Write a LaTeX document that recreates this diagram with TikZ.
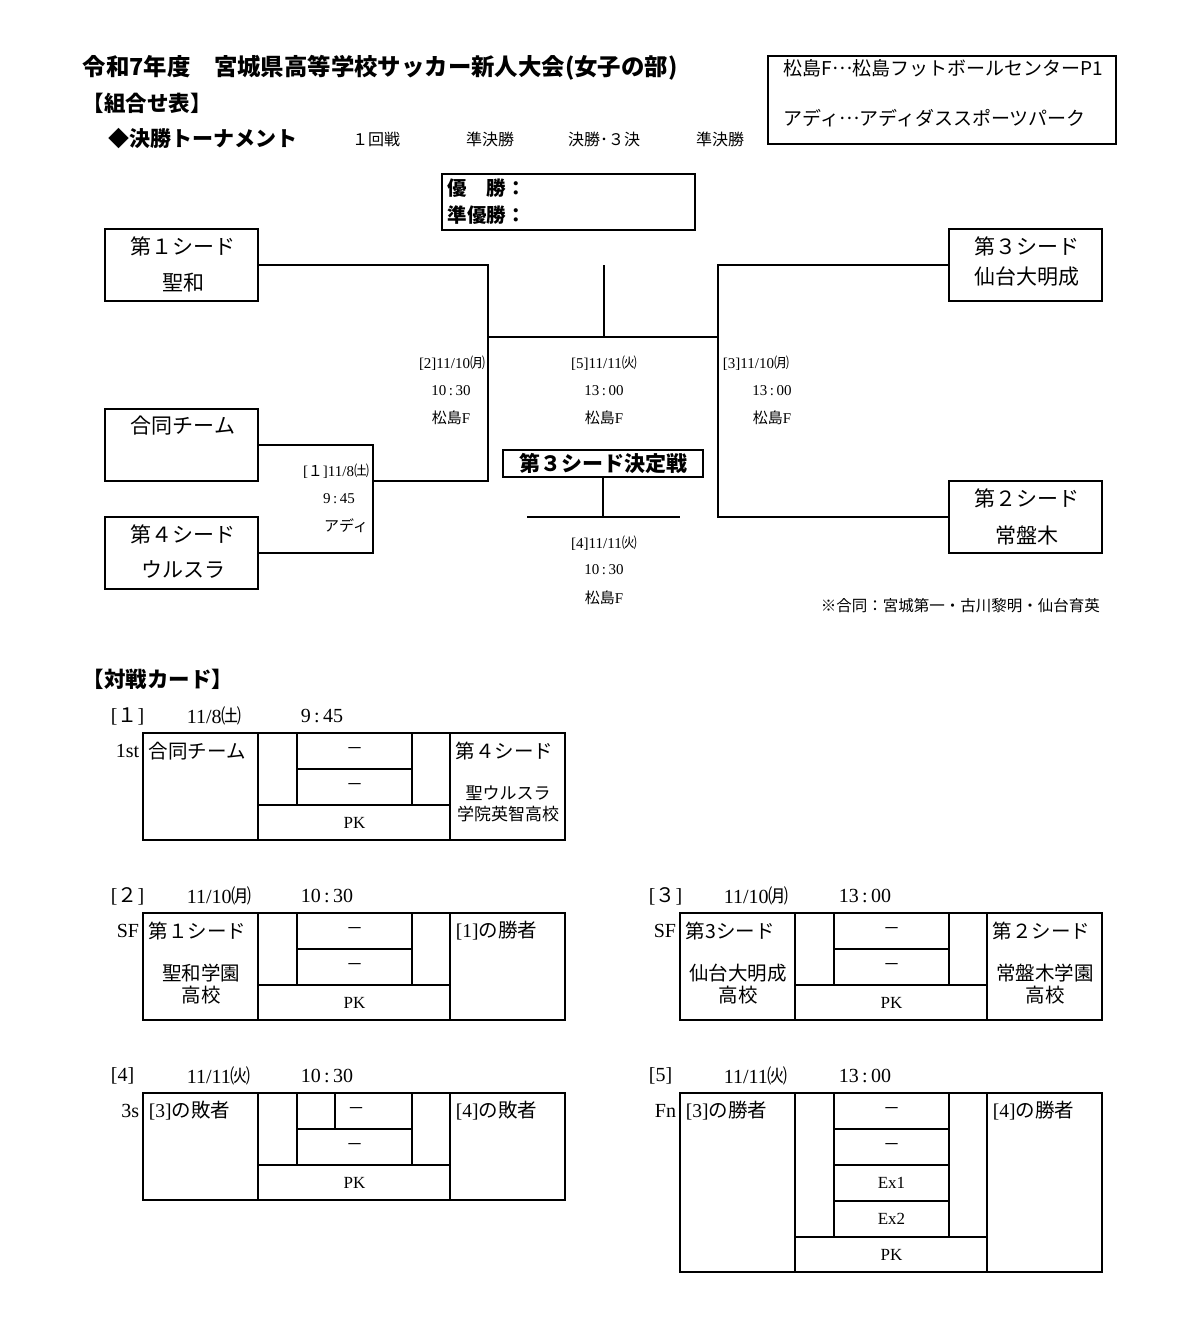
\documentclass[tikz,border=0pt]{standalone}
\usepackage{fontspec}
\setmainfont{Liberation Serif}
\newfontfamily\jp{Noto Sans CJK JP}
\newcommand\fs[1]{\fontsize{#1}{#1}\selectfont}
\newcommand\mdots{\raisebox{.3em}{…}}
\usetikzlibrary{positioning}
\tikzset{
  team/.style={draw,minimum width=153pt,minimum height=72pt},
  tname/.style={inner sep=0pt,font=\jp\fs{21}},
  lbl/.style={inner sep=0pt,font=\fs{15}},
  hd/.style={inner sep=0pt,anchor=west,font=\fs{20}},
  cell/.style={inner sep=0pt,font=\jp\fs{19.5}},
  score/.style={inner sep=0pt,font=\fs{17}},
}
\begin{document}
\begin{tikzpicture}[x=1pt,y=-1pt,line width=1.8pt]
\useasboundingbox (0,0) rectangle (1203,1331);
% heading
\node[anchor=west,inner sep=0pt,font=\jp\bfseries\fs{23.4}] (title) at (82,68) {令和7年度　宮城県高等学校サッカー新人大会(女子の部)};
\node[anchor=west,inner sep=0pt,font=\jp\bfseries\fs{21.5}] (kumi) at (82,103) {【組合せ表】};
\node[anchor=west,inner sep=0pt,font=\jp\bfseries\fs{21}] (kesshoT) at (108,139) {◆決勝トーナメント};
\node[inner sep=0pt,font=\jp\fs{16}] (r1) at (376,139) {１回戦};
\node[inner sep=0pt,font=\jp\fs{16}] (r2) at (490,139) {準決勝};
\node[inner sep=0pt,font=\jp\fs{16}] (r3) at (604,139) {決勝･３決};
\node[inner sep=0pt,font=\jp\fs{16}] (r4) at (720,139) {準決勝};
\node[draw,line width=1.4pt,minimum width=348pt,minimum height=88pt] (venue) at (942,100) {};
\node[anchor=west,inner sep=0pt,font=\jp\fs{19}] (venue1) at (783,68) {松島F\mdots 松島フットボールセンターP1};
\node[anchor=west,inner sep=0pt,font=\jp\fs{19}] (venue2) at (783,118) {アディ\mdots アディダススポーツパーク};
\node[draw,minimum width=253pt,minimum height=56pt] (win) at (568.5,202) {};
\node[anchor=west,inner sep=0pt,font=\jp\bfseries\fs{19.5}] (win1) at (447,188) {優　勝：};
\node[anchor=west,inner sep=0pt,font=\jp\bfseries\fs{19.5}] (win2) at (447,215) {準優勝：};
% teams
\node[team] (s1) at (181.5,265) {};
\node[team] (g) at (181.5,445) {};
\node[team] (s4) at (181.5,553) {};
\node[team] (s3) at (1025.5,265) {};
\node[team] (s2) at (1025.5,517) {};
\node[tname] (s1a) at (183,246) {第１シード};
\node[tname] (s1b) at (183,283) {聖和};
\node[tname] (ga) at (183,426) {合同チーム};
\node[tname] (s4a) at (183,534) {第４シード};
\node[tname] (s4b) at (183,570) {ウルスラ};
\node[tname] (s3a) at (1027,246) {第３シード};
\node[tname] (s3b) at (1027,277) {仙台大明成};
\node[tname] (s2a) at (1027,498) {第２シード};
\node[tname] (s2b) at (1027,535) {常盤木};
% bracket
\coordinate (m1) at (373,481);
\coordinate (m2) at (488,337);
\coordinate (m3) at (718,337);
\coordinate (fin) at (604,265);
\draw (g.east) -| (m1) |- (s4.east);
\draw (s1.east) -| (m2);
\draw (m1) -| (m2) -- (m3);
\draw (s3.west) -| (m3) |- (s2.west);
\draw (fin) -- (fin |- m2);
\node[draw,minimum width=200pt,minimum height=27pt,inner sep=0pt,font=\jp\bfseries\fs{21}] (t3) at (603,463.5) {第３シード決定戦};
\coordinate (t3l) at (527,517);
\coordinate (t3r) at (680,517);
\draw (t3.south) -- (t3.south |- t3l);
\draw (t3l) -- (t3r);
% match labels
\node[lbl,anchor=east] (l1a) at (370,471) {[{\jp １}]11/8{\jp ㈯}};
\node[lbl] (l1b) at (339,499) {9\,:\,45};
\node[lbl,anchor=east] (l1c) at (369,526) {\jp アディ};
\node[lbl,anchor=east] (l2a) at (486,363) {[2]11/10{\jp ㈪}};
\node[lbl] (l2b) at (451,391) {10\,:\,30};
\node[lbl] (l2c) at (451,418) {{\jp 松島}F};
\node[lbl] (l5a) at (604,363) {[5]11/11{\jp ㈫}};
\node[lbl] (l5b) at (604,391) {13\,:\,00};
\node[lbl] (l5c) at (604,418) {{\jp 松島}F};
\node[lbl,anchor=west] (l3a) at (722,363) {[3]11/10{\jp ㈪}};
\node[lbl] (l3b) at (772,391) {13\,:\,00};
\node[lbl] (l3c) at (772,418) {{\jp 松島}F};
\node[lbl] (l4a) at (604,543) {[4]11/11{\jp ㈫}};
\node[lbl] (l4b) at (604,570) {10\,:\,30};
\node[lbl] (l4c) at (604,598) {{\jp 松島}F};
\node[anchor=west,inner sep=0pt,font=\jp\fs{15.5}] (note) at (820,606) {※合同：宮城第一・古川黎明・仙台育英};
% cards
\node[anchor=west,inner sep=0pt,font=\jp\bfseries\fs{21.5}] (card) at (82,679) {【対戦カード】};
\begin{scope}[shift={(143,733)}]
\draw (0,0) rectangle (422,107);
\draw (115,0) -- (115,107) (307,0) -- (307,107) (115,72) -- (307,72);
\draw (154,0) -- (154,72) (269,0) -- (269,72) (154,36) -- (269,36);
\node[hd] (c1no) at (-33,-17) {[{\jp １}]};
\node[hd] (c1day) at (43,-17) {11/8{\jp ㈯}};
\node[hd] (c1time) at (157,-17) {9\,:\,45};
\node[score,anchor=east,font=\fs{20}] (c1rd) at (-3,18) {1st};
\node[cell,anchor=west] (c1l) at (5,18) {合同チーム};
\node[cell,anchor=west] (c1r) at (312,18) {第４シード};
\node[cell,font=\jp\fs{17}] (c1r2) at (365,60) {聖ウルスラ};
\node[cell,font=\jp\fs{17}] (c1r3) at (365,81) {学院英智高校};
\node[score,font=\jp\fs{17}] (c1s1) at (211.5,18) {－};
\node[score,font=\jp\fs{17}] (c1s2) at (211.5,54) {－};
\node[score] (c1pk) at (211.5,90) {PK};
\end{scope}
\begin{scope}[shift={(143,913)}]
\draw (0,0) rectangle (422,107);
\draw (115,0) -- (115,107) (307,0) -- (307,107) (115,72) -- (307,72);
\draw (154,0) -- (154,72) (269,0) -- (269,72) (154,36) -- (269,36);
\node[hd] (c2no) at (-33,-17) {[{\jp ２}]};
\node[hd] (c2day) at (43,-17) {11/10{\jp ㈪}};
\node[hd] (c2time) at (157,-17) {10\,:\,30};
\node[score,anchor=east,font=\fs{20}] (c2rd) at (-3,18) {SF};
\node[cell,anchor=west] (c2l) at (5,18) {第１シード};
\node[cell] (c2l2) at (58,60) {聖和学園};
\node[cell] (c2l3) at (58,82) {高校};
\node[cell,anchor=west,font=\fs{19.5}] (c2r) at (312,18) {[1]{\jp の勝者}};
\node[score,font=\jp\fs{17}] (c2s1) at (211.5,18) {－};
\node[score,font=\jp\fs{17}] (c2s2) at (211.5,54) {－};
\node[score] (c2pk) at (211.5,90) {PK};
\end{scope}
\begin{scope}[shift={(680,913)}]
\draw (0,0) rectangle (422,107);
\draw (115,0) -- (115,107) (307,0) -- (307,107) (115,72) -- (307,72);
\draw (154,0) -- (154,72) (269,0) -- (269,72) (154,36) -- (269,36);
\node[hd] (c3no) at (-32,-17) {[{\jp ３}]};
\node[hd] (c3day) at (43,-17) {11/10{\jp ㈪}};
\node[hd] (c3time) at (158,-17) {13\,:\,00};
\node[score,anchor=east,font=\fs{20}] (c3rd) at (-3,18) {SF};
\node[cell,anchor=west] (c3l) at (5,18) {第3シード};
\node[cell] (c3l2) at (58,60) {仙台大明成};
\node[cell] (c3l3) at (58,82) {高校};
\node[cell,anchor=west] (c3r) at (312,18) {第２シード};
\node[cell] (c3r2) at (365,60) {常盤木学園};
\node[cell] (c3r3) at (365,82) {高校};
\node[score,font=\jp\fs{17}] (c3s1) at (211.5,18) {－};
\node[score,font=\jp\fs{17}] (c3s2) at (211.5,54) {－};
\node[score] (c3pk) at (211.5,90) {PK};
\end{scope}
\begin{scope}[shift={(143,1093)}]
\draw (0,0) rectangle (422,107);
\draw (115,0) -- (115,107) (307,0) -- (307,107) (115,72) -- (307,72);
\draw (154,0) -- (154,72) (269,0) -- (269,72) (154,36) -- (269,36);
\draw (192,0) -- (192,36);
\node[hd] (c4no) at (-33,-17) {[4]};
\node[hd] (c4day) at (43,-17) {11/11{\jp ㈫}};
\node[hd] (c4time) at (157,-17) {10\,:\,30};
\node[score,anchor=east,font=\fs{20}] (c4rd) at (-3,18) {3s};
\node[cell,anchor=west,font=\fs{19.5}] (c4l) at (5,18) {[3]{\jp の敗者}};
\node[cell,anchor=west,font=\fs{19.5}] (c4r) at (312,18) {[4]{\jp の敗者}};
\node[score,font=\jp\fs{17}] (c4s1) at (213,18) {－};
\node[score,font=\jp\fs{17}] (c4s2) at (211.5,54) {－};
\node[score] (c4pk) at (211.5,90) {PK};
\end{scope}
\begin{scope}[shift={(680,1093)}]
\draw (0,0) rectangle (422,179);
\draw (115,0) -- (115,179) (307,0) -- (307,179) (115,144) -- (307,144);
\draw (154,0) -- (154,144) (269,0) -- (269,144);
\draw (154,36) -- (269,36) (154,72) -- (269,72) (154,108) -- (269,108);
\node[hd] (c5no) at (-32,-17) {[5]};
\node[hd] (c5day) at (43,-17) {11/11{\jp ㈫}};
\node[hd] (c5time) at (158,-17) {13\,:\,00};
\node[score,anchor=east,font=\fs{20}] (c5rd) at (-3,18) {Fn};
\node[cell,anchor=west,font=\fs{19.5}] (c5l) at (5,18) {[3]{\jp の勝者}};
\node[cell,anchor=west,font=\fs{19.5}] (c5r) at (312,18) {[4]{\jp の勝者}};
\node[score,font=\jp\fs{17}] (c5s1) at (211.5,18) {－};
\node[score,font=\jp\fs{17}] (c5s2) at (211.5,54) {－};
\node[score] (c5e1) at (211.5,90) {Ex1};
\node[score] (c5e2) at (211.5,126) {Ex2};
\node[score] (c5pk) at (211.5,162) {PK};
\end{scope}
\end{tikzpicture}
\end{document}
